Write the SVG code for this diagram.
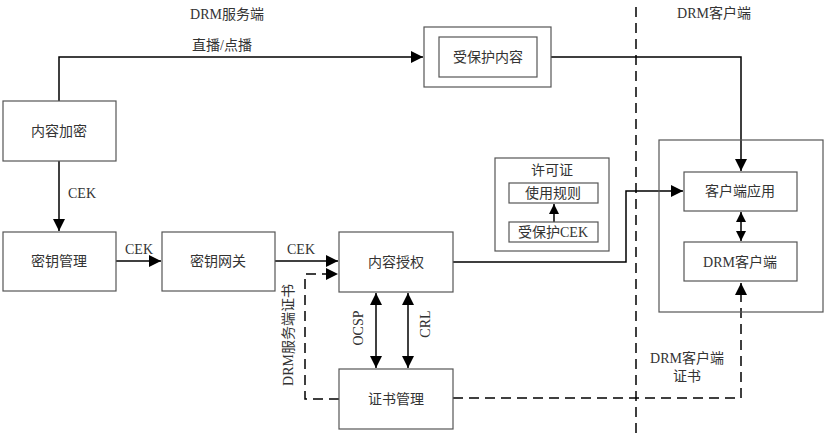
<svg xmlns="http://www.w3.org/2000/svg" width="825" height="446" viewBox="0 0 825 446">
<style>
.box{fill:#fff;stroke:#555;stroke-width:1.2}
.frame{fill:none;stroke:#555;stroke-width:1.2}
.ln{fill:none;stroke:#000;stroke-width:1.5}
.dash{fill:none;stroke:#000;stroke-width:1.5;stroke-dasharray:10,6}
text{font-family:"Liberation Serif","Noto Sans CJK SC",serif;font-size:14px;fill:#333;text-anchor:middle;dominant-baseline:central}
</style>
<defs>
<marker id="ah" viewBox="0 0 10 10" refX="10" refY="5" markerWidth="10" markerHeight="10" markerUnits="userSpaceOnUse" orient="auto-start-reverse"><path d="M0,0 L10,5 L0,10 Z" fill="#000"/></marker>
<marker id="ah2" viewBox="0 0 10 10" refX="10" refY="5" markerWidth="12" markerHeight="12" markerUnits="userSpaceOnUse" orient="auto-start-reverse"><path d="M0,0 L10,5 L0,10 Z" fill="#000"/></marker>
</defs>
<line x1="636" y1="7" x2="636" y2="438" class="dash"/>
<text x="227" y="14">DRM服务端</text>
<text x="714" y="13">DRM客户端</text>
<g id="connectors">
<polyline class="ln" points="59,101 59,57 423,57" marker-end="url(#ah2)"/>
<text x="222" y="45">直播/点播</text>
<polyline class="ln" points="551,57 741,57 741,171" marker-end="url(#ah2)"/>
<line class="ln" x1="59" y1="161" x2="59" y2="231" marker-end="url(#ah2)"/>
<text x="82" y="193">CEK</text>
<line class="ln" x1="116" y1="261" x2="161" y2="261" marker-end="url(#ah2)"/>
<text x="139" y="249">CEK</text>
<line class="ln" x1="275" y1="261" x2="338" y2="261" marker-end="url(#ah2)"/>
<text x="301" y="249">CEK</text>
<polyline class="ln" points="453,262 626,262 626,191 683,191" marker-end="url(#ah2)"/>
<line class="ln" x1="554" y1="222" x2="554" y2="204" marker-end="url(#ah)"/>
<line class="ln" x1="741" y1="212" x2="741" y2="241" marker-start="url(#ah)" marker-end="url(#ah)"/>
<line class="ln" x1="376" y1="293" x2="376" y2="368" marker-start="url(#ah2)" marker-end="url(#ah2)"/>
<line class="ln" x1="408" y1="293" x2="408" y2="368" marker-start="url(#ah2)" marker-end="url(#ah2)"/>
<text x="358" y="328" transform="rotate(-90 358 328)">OCSP</text>
<text x="425" y="324" transform="rotate(-90 425 324)">CRL</text>
<polyline class="dash" points="339,399 305,399 305,274 338,274" marker-end="url(#ah2)"/>
<text x="288" y="335" transform="rotate(-90 288 335)">DRM服务端证书</text>
<polyline class="dash" points="453,398 741,398 741,283" marker-end="url(#ah2)"/>
<text x="687" y="358">DRM客户端</text>
<text x="687" y="376">证书</text>
</g>
<g id="n-encrypt"><rect class="box" x="3" y="101" width="113" height="60"/><text x="59" y="131">内容加密</text></g>
<g id="n-protected"><rect class="frame" x="424" y="27" width="127" height="60"/><rect class="box" x="439" y="37" width="98" height="40"/><text x="488" y="57">受保护内容</text></g>
<g id="n-keymgmt"><rect class="box" x="3" y="232" width="113" height="59"/><text x="59" y="261">密钥管理</text></g>
<g id="n-keygw"><rect class="box" x="162" y="232" width="113" height="59"/><text x="218" y="261">密钥网关</text></g>
<g id="n-auth"><rect class="box" x="339" y="232" width="114" height="60"/><text x="396" y="262">内容授权</text></g>
<g id="n-cert"><rect class="box" x="339" y="369" width="114" height="60"/><text x="396" y="399">证书管理</text></g>
<g id="n-license"><rect class="frame" x="495" y="158" width="114" height="93"/><text x="552" y="170">许可证</text>
<rect class="box" x="509" y="183" width="89" height="20"/><text x="553" y="193">使用规则</text>
<rect class="box" x="509" y="222" width="89" height="20"/><text x="553" y="232">受保护CEK</text></g>
<g id="n-client"><rect class="frame" x="659" y="140" width="164" height="172"/>
<rect class="box" x="684" y="172" width="113" height="39"/><text x="740" y="191">客户端应用</text>
<rect class="box" x="684" y="242" width="113" height="39"/><text x="740" y="262">DRM客户端</text></g>
</svg>
